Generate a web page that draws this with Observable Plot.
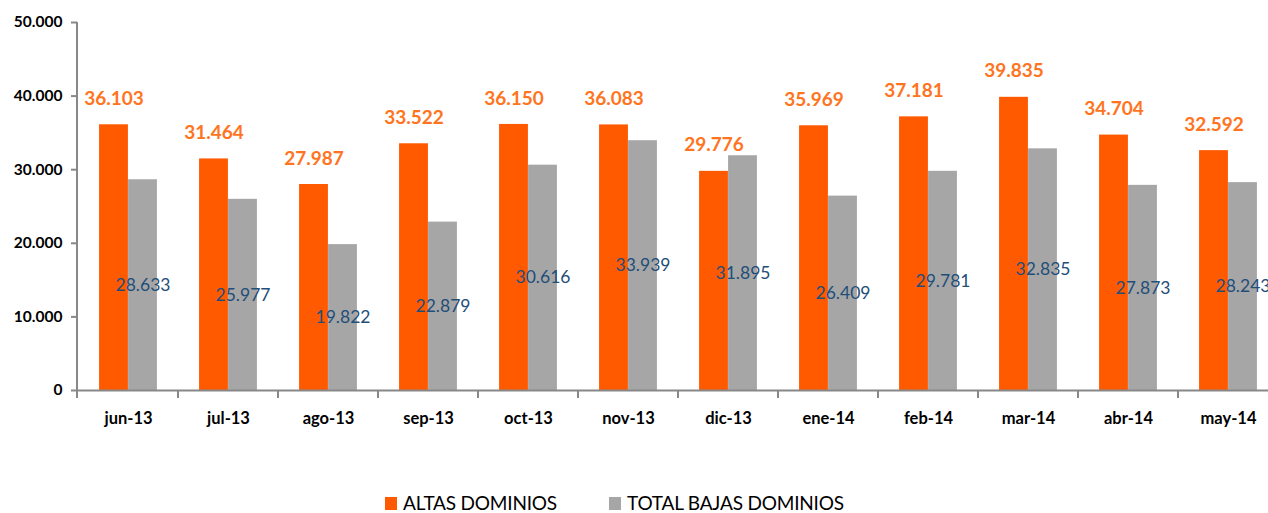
<!DOCTYPE html>
<html>
<head>
<meta charset="utf-8">
<script src="https://cdn.jsdelivr.net/npm/d3@7"></script>
<script src="https://cdn.jsdelivr.net/npm/@observablehq/plot@0.6"></script>
<style>
  html, body { margin: 0; padding: 0; background: #fff; }
  #wrap { width: 1268px; height: 513px; position: relative; overflow: hidden; }
  #legend { position: absolute; left: 0; top: 493px; height: 20px; width: 1268px; font-family: Lato, "Open Sans", sans-serif; font-size: 19px; line-height: 20px; color: #000; }
  .item { position: absolute; top: 0; height: 20px; display: flex; align-items: center; }
  .sw { width: 12px; height: 13px; margin-right: 6px; }
  .lbl { letter-spacing: -0.2px; }
</style>
</head>
<body>
<div id="wrap">
  <div id="chart"></div>
  <div id="legend"></div>
</div>
<script>
const months = ["jun-13","jul-13","ago-13","sep-13","oct-13","nov-13","dic-13","ene-14","feb-14","mar-14","abr-14","may-14"];
const altas = [36103, 31464, 27987, 33522, 36150, 36083, 29776, 35969, 37181, 39835, 34704, 32592];
const bajas = [28633, 25977, 19822, 22879, 30616, 33939, 31895, 26409, 29781, 32835, 27873, 28243];
const seriesNames = ["ALTAS DOMINIOS", "TOTAL BAJAS DOMINIOS"];
const yTicks = [0, 10000, 20000, 30000, 40000, 50000];

const colorAltas = "#ff5a00";
const colorBajas = "#a6a6a6";
const colorAltasLabel = "#ff7420";
const colorBajasLabel = "#1f4e79";

const es = d3.formatLocale({decimal: ",", thousands: ".", grouping: [3], currency: ["", "€"]});
const fmt = es.format(",d");

const data = months.map((m, i) => ({month: m, altas: altas[i], bajas: bajas[i]}));

const W = 1268, H = 470;
const bandLeft = 77, bandRight = 1279;
const step = (bandRight - bandLeft) / months.length;
const barW = 29;
const half = step / 2;

const chart = Plot.plot({
  width: W,
  height: H,
  marginLeft: bandLeft,
  marginRight: W - bandRight,
  marginTop: 22,
  marginBottom: H - 390,
  style: {background: "#fff", overflow: "visible"},
  x: {domain: months, range: [bandLeft, bandRight], padding: 0, axis: null},
  y: {domain: [0, 50000], range: [390, 22], axis: null},
  marks: [
    Plot.barY(data, {x: "month", y: "altas", fill: colorAltas, insetLeft: half - barW, insetRight: half}),
    Plot.barY(data, {x: "month", y: "bajas", fill: colorBajas, insetLeft: half, insetRight: half - barW}),
    Plot.ruleY([0], {stroke: "#888", strokeWidth: 2}),
    Plot.axisY({ticks: yTicks, tickFormat: fmt, tickSize: 6, stroke: "#888", strokeWidth: 2, fontSize: 15.5, fontWeight: "bold", fill: "#000", tickPadding: 9, fontFamily: "Lato, sans-serif", label: null}),
    Plot.axisX({tickSize: 0, tickPadding: 22, fontSize: 16.5, fontWeight: "bold", fill: "#000", fontFamily: "Lato, sans-serif", label: null}),
    Plot.text(data, {x: "month", y: "altas", text: d => fmt(d.altas), dx: -(barW / 2), dy: -26, fill: colorAltasLabel, fontSize: 19, fontWeight: "bold", fontFamily: "Lato, sans-serif", lineAnchor: "middle"}),
    Plot.text(data, {x: "month", y: d => d.bajas / 2, text: d => fmt(d.bajas), dx: barW / 2, fill: colorBajasLabel, fontSize: 17.5, fontFamily: "Lato, sans-serif", lineAnchor: "middle"})
  ]
});
document.getElementById("chart").appendChild(chart);

const svg = d3.select(chart);
const xs = chart.scale("x");
const ys = chart.scale("y");
const g = svg.append("g").attr("stroke", "#888").attr("stroke-width", 2);
g.append("line").attr("x1", bandLeft).attr("x2", bandLeft).attr("y1", ys.apply(50000)).attr("y2", ys.apply(0) + 8);
months.forEach((m) => {
  const xe = xs.apply(m) + xs.bandwidth;
  g.append("line").attr("x1", xe).attr("x2", xe).attr("y1", ys.apply(0)).attr("y2", ys.apply(0) + 8);
});

const legend = document.getElementById("legend");
const items = [{name: seriesNames[0], color: colorAltas, left: 385}, {name: seriesNames[1], color: colorBajas, left: 609}];
items.forEach(it => {
  const d = document.createElement("div");
  d.className = "item";
  d.style.left = it.left + "px";
  d.innerHTML = `<span class="sw" style="background:${it.color}"></span><span class="lbl">${it.name}</span>`;
  legend.appendChild(d);
});
</script>
</body>
</html>
